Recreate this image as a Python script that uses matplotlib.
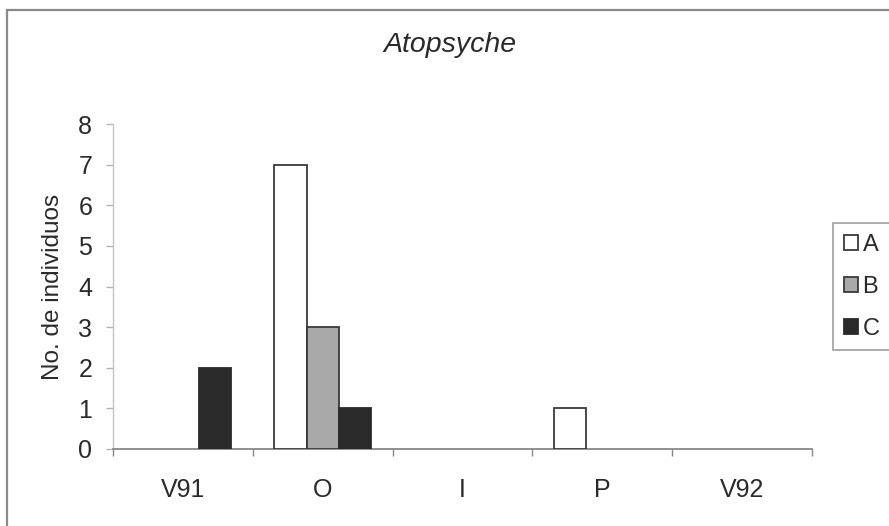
import matplotlib
matplotlib.use("Agg")
import matplotlib.pyplot as plt
from matplotlib.patches import Rectangle, Patch
import numpy as np

categories = ["V91", "O", "I", "P", "V92"]
series_names = ["A", "B", "C"]
values_A = [0, 7, 0, 1, 0]
values_B = [0, 3, 0, 0, 0]
values_C = [2, 1, 0, 0, 0]
y_ticks = [0, 1, 2, 3, 4, 5, 6, 7, 8]
title = "Atopsyche"
ylabel = "No. de individuos"

plt.rcParams['font.family'] = ['Liberation Sans', 'DejaVu Sans']
txt = "#2a2a2a"

fig = plt.figure(figsize=(8.89, 5.26), dpi=100)
fig.patch.set_facecolor("white")
W, H = 889, 526
ax = fig.add_axes([113 / W, 1 - 449 / H, (812 - 113) / W, (449 - 124) / H])

x = np.arange(len(categories))
bw = 0.23
styles = [
    dict(facecolor="white", edgecolor="#3a3a3a"),
    dict(facecolor="#a9a9a9", edgecolor="#3a3a3a"),
    dict(facecolor="#2a2a2a", edgecolor="#2a2a2a"),
]
for i, vals in enumerate([values_A, values_B, values_C]):
    heights = np.array([v if v != 0 else np.nan for v in vals], dtype=float)
    ax.bar(x + (i - 1) * bw, heights, width=bw, linewidth=1.3, zorder=3, **styles[i])

ax.set_xlim(-0.5, len(categories) - 0.5)
ax.set_ylim(0, 8)
ax.set_yticks(y_ticks)
ax.set_yticklabels([str(t) for t in y_ticks])

ax.set_xticks(np.arange(len(categories) + 1) - 0.5)
ax.set_xticklabels([])
ax.set_xticks(x, minor=True)
ax.set_xticklabels(categories, minor=True)
ax.tick_params(axis="x", which="major", length=5, width=1, color="#888888", direction="out")
ax.tick_params(axis="x", which="minor", length=0, pad=21, labelsize=18, labelcolor=txt)
ax.tick_params(axis="y", length=5, width=1, color="#b5b5b5", direction="out", pad=10,
               labelsize=18, labelcolor=txt)

for s in ["top", "right"]:
    ax.spines[s].set_visible(False)
ax.spines["bottom"].set_color("#888888")
ax.spines["bottom"].set_linewidth(1.3)
ax.spines["left"].set_color("#c4c4c4")
ax.spines["left"].set_linewidth(1.0)

ax.set_ylabel(ylabel, fontsize=17.5, color=txt)
ax.yaxis.set_label_coords((64 - 113) / (812 - 113), 0.5)

fig.text(450 / W, 1 - 45 / H, title, fontsize=20.5, style="italic", color=txt,
         ha="center", va="center")

# outer chart frame
fig.patches.append(Rectangle((7 / W, -0.5), 1.5, 0.5 + 1 - 10 / H, transform=fig.transFigure,
                             facecolor="none", edgecolor="#8a8a8a", linewidth=1.6))

handles = [Patch(linewidth=1.3, **styles[i]) for i in range(3)]
leg = fig.legend(handles, series_names, loc="upper left",
                 bbox_to_anchor=(833 / W, 1 - 223 / H), fontsize=17,
                 frameon=True, fancybox=False, handlelength=0.6, handleheight=0.6,
                 handletextpad=0.2, labelspacing=0.85, borderpad=0.45, borderaxespad=0)
leg.get_frame().set_edgecolor("#888888")
leg.get_frame().set_linewidth(1.2)
for t in leg.get_texts():
    t.set_color(txt)

fig.savefig("out.png", dpi=100, facecolor="white")
